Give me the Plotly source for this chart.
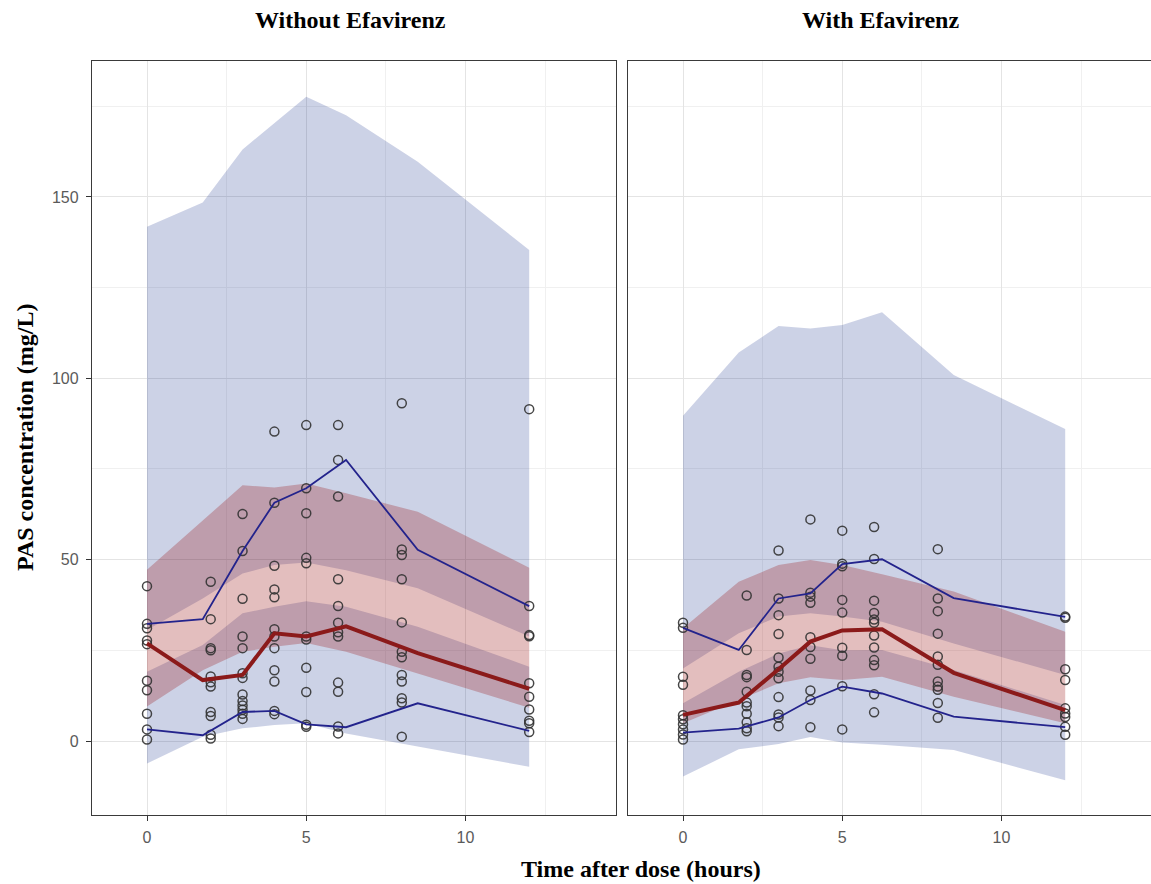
import plotly.graph_objects as go

# ---------------- data ----------------
bin_time = [0, 1.75, 3, 4, 5, 6.25, 8.5, 12]

# Without Efavirenz: simulated confidence bands
no_ci95_hi = [141.8, 148.5, 163.1, 170.3, 177.6, 172.5, 159.7, 135.4]
no_ci95_lo = [30.6, 39.3, 46.2, 48.5, 49.2, 47.1, 42.1, 28.8]
no_ci50_hi = [47.2, 60.9, 70.5, 69.9, 71.0, 68.3, 63.2, 47.8]
no_ci50_lo = [9.5, 19.5, 24.6, 26.0, 27.0, 24.6, 18.6, 9.2]
no_ci05_hi = [19.1, 26.5, 35.2, 37.0, 38.5, 37.0, 31.5, 20.5]
no_ci05_lo = [-6.2, 1.2, 3.5, 4.4, 4.9, 2.1, -1.5, -7.1]
# Without Efavirenz: observed percentiles
no_obs95 = [32.3, 33.6, 52.4, 65.7, 69.7, 77.5, 52.7, 37.2]
no_obs50 = [26.9, 16.8, 18.2, 29.7, 28.8, 31.6, 24.2, 14.4]
no_obs05 = [3.2, 1.6, 8.0, 8.3, 4.6, 3.8, 10.4, 2.8]

# With Efavirenz: simulated confidence bands
ef_ci95_hi = [89.7, 107.1, 114.4, 113.7, 114.7, 118.2, 100.9, 86.0]
ef_ci95_lo = [20.0, 29.7, 34.3, 35.2, 34.3, 32.9, 26.9, 18.2]
ef_ci50_hi = [31.1, 43.9, 48.5, 49.9, 48.5, 46.0, 41.2, 30.1]
ef_ci50_lo = [4.9, 11.3, 15.9, 17.6, 16.8, 17.7, 12.2, 4.9]
ef_ci05_hi = [10.4, 19.1, 24.1, 26.4, 25.0, 25.1, 19.6, 9.9]
ef_ci05_lo = [-9.8, -2.3, -0.8, 1.1, -0.4, -1.0, -2.5, -10.8]
# With Efavirenz: observed percentiles
ef_obs95 = [31.2, 25.1, 39.3, 40.7, 48.8, 50.1, 39.4, 34.2]
ef_obs50 = [7.2, 10.6, 19.8, 27.4, 30.5, 30.8, 18.8, 8.5]
ef_obs05 = [2.3, 3.4, 6.5, 11.3, 15.0, 13.1, 6.7, 3.8]

# observed concentrations (mg/L) at nominal sampling times
obs_times = [0, 2, 3, 4, 5, 6, 8, 12]
no_conc_t0 = [42.7, 32.3, 31.1, 27.7, 26.7, 16.6, 14.0, 7.5, 3.2, 0.4]
no_conc_t2 = [43.9, 33.6, 25.6, 25.0, 17.8, 16.2, 15.0, 8.0, 6.9, 1.7, 0.7]
no_conc_t3 = [62.6, 52.4, 39.2, 28.8, 25.6, 18.7, 17.4, 12.8, 11.0, 9.8, 8.6, 7.5, 6.1]
no_conc_t4 = [85.3, 65.7, 48.3, 41.8, 39.6, 30.8, 28.8, 25.6, 19.5, 16.4, 8.3, 7.4]
no_conc_t5 = [87.1, 69.7, 62.8, 50.5, 49.0, 28.8, 28.0, 20.2, 13.5, 4.5, 3.9]
no_conc_t6 = [87.1, 77.5, 67.4, 44.6, 37.2, 32.6, 30.0, 28.8, 16.1, 13.6, 4.0, 2.1]
no_conc_t8 = [93.1, 52.8, 51.3, 44.6, 32.7, 24.6, 23.1, 18.2, 16.4, 11.8, 10.6, 1.2]
no_conc_t12 = [91.5, 37.2, 29.2, 28.9, 15.9, 12.2, 8.7, 5.6, 4.9, 2.5]

ef_conc_t0 = [32.6, 31.2, 17.7, 15.5, 7.1, 6.0, 4.6, 3.2, 1.8, 0.4]
ef_conc_t2 = [40.1, 25.1, 18.2, 17.6, 13.6, 10.6, 9.6, 7.5, 5.2, 3.5, 2.7]
ef_conc_t3 = [52.5, 39.3, 34.7, 29.5, 23.0, 20.5, 19.1, 17.3, 12.1, 7.3, 6.5, 4.1]
ef_conc_t4 = [61.1, 40.9, 39.8, 38.1, 28.6, 25.9, 22.7, 13.9, 11.3, 3.8]
ef_conc_t5 = [58.0, 48.9, 48.2, 38.9, 35.4, 25.7, 23.5, 15.1, 3.2]
ef_conc_t6 = [59.0, 50.2, 38.7, 35.3, 33.5, 32.6, 29.1, 25.8, 22.3, 20.9, 12.9, 7.9]
ef_conc_t8 = [52.9, 39.3, 35.8, 29.6, 23.3, 21.0, 16.4, 15.0, 14.1, 10.5, 6.4]
ef_conc_t12 = [34.3, 34.0, 19.8, 16.8, 9.0, 7.6, 6.6, 3.9, 1.7]

x_ticks = [0, 5, 10]
y_ticks = [0, 50, 100, 150]
panel_titles = ["Without Efavirenz", "With Efavirenz"]
x_title = "Time after dose (hours)"
y_title = "PAS concentration (mg/L)"

# ---------------- styling ----------------
W, H = 1151, 884
BLUE_FILL = "rgba(0,30,130,0.20)"
RED_FILL = "rgba(150,15,15,0.27)"
BLUE_LINE = "rgb(35,35,140)"
RED_LINE = "rgb(139,26,26)"
PT_COLOR = "rgba(50,50,50,0.9)"
SERIF = "Liberation Serif, Times New Roman, serif"
SANS = "Liberation Sans, Arial, sans-serif"

fig = go.Figure()


def band(lo, hi, color, xa, ya):
    xs = list(bin_time) + list(bin_time)[::-1]
    ys = list(hi) + list(lo)[::-1]
    fig.add_trace(go.Scatter(x=xs, y=ys, fill="toself", fillcolor=color,
                             mode="lines", line=dict(width=0, color=color),
                             hoverinfo="skip", showlegend=False,
                             xaxis=xa, yaxis=ya))


def points(times, groups, xa, ya):
    xs, ys = [], []
    for t, g in zip(times, groups):
        xs += [t] * len(g)
        ys += g
    fig.add_trace(go.Scatter(x=xs, y=ys, mode="markers",
                             marker=dict(symbol="circle-open", size=9,
                                         color=PT_COLOR, line=dict(width=1.5, color=PT_COLOR)),
                             showlegend=False, xaxis=xa, yaxis=ya))


def line(vals, color, width, xa, ya):
    fig.add_trace(go.Scatter(x=bin_time, y=vals, mode="lines",
                             line=dict(color=color, width=width),
                             showlegend=False, xaxis=xa, yaxis=ya))


panels = [
    ("x", "y", no_ci95_lo, no_ci95_hi, no_ci50_lo, no_ci50_hi, no_ci05_lo, no_ci05_hi,
     [no_conc_t0, no_conc_t2, no_conc_t3, no_conc_t4, no_conc_t5, no_conc_t6, no_conc_t8, no_conc_t12],
     no_obs95, no_obs50, no_obs05),
    ("x2", "y2", ef_ci95_lo, ef_ci95_hi, ef_ci50_lo, ef_ci50_hi, ef_ci05_lo, ef_ci05_hi,
     [ef_conc_t0, ef_conc_t2, ef_conc_t3, ef_conc_t4, ef_conc_t5, ef_conc_t6, ef_conc_t8, ef_conc_t12],
     ef_obs95, ef_obs50, ef_obs05),
]

for xa, ya, c95l, c95h, c50l, c50h, c05l, c05h, groups, o95, o50, o05 in panels:
    band(c95l, c95h, BLUE_FILL, xa, ya)
    band(c05l, c05h, BLUE_FILL, xa, ya)
    band(c50l, c50h, RED_FILL, xa, ya)
    points(obs_times, groups, xa, ya)
    line(o95, BLUE_LINE, 1.8, xa, ya)
    line(o05, BLUE_LINE, 1.8, xa, ya)
    line(o50, RED_LINE, 4, xa, ya)

# panel geometry (pixels)
L1, R1 = 92, 616
L2 = 628
TOP, BOT = 61, 815
px_per_x = 31.85
px_per_y = 3.627
x0_left = -(147 - L1) / px_per_x
x1_left = x0_left + (R1 - L1) / px_per_x
x1_right = x0_left + (W - L2) / px_per_x
y_hi = (741 - TOP) / px_per_y
y_lo = (741 - BOT) / px_per_y

ydom = [1 - BOT / H, 1 - TOP / H]

common_x = dict(tickmode="array", tickvals=x_ticks, ticktext=[str(v) for v in x_ticks],
                showgrid=True, gridcolor="#E4E4E4", gridwidth=1, zeroline=False,
                ticks="outside", ticklen=5, tickwidth=1, tickcolor="#333333",
                tickfont=dict(family=SANS, size=16, color="#5a5a5a"),
                showline=True, linecolor="#3a3a3a", linewidth=1.3, mirror=True,
                minor=dict(dtick=2.5, tick0=0, showgrid=True, gridcolor="#F0F0F0", gridwidth=0.7),
                ticklabelstandoff=3)
common_y = dict(range=[y_lo, y_hi], tickmode="array", tickvals=y_ticks,
                showgrid=True, gridcolor="#E4E4E4", gridwidth=1, zeroline=False,
                minor=dict(dtick=25, tick0=0, showgrid=True, gridcolor="#F0F0F0", gridwidth=0.7),
                showline=True, linecolor="#3a3a3a", linewidth=1.3)

fig.update_layout(
    width=W, height=H,
    margin=dict(l=0, r=0, t=0, b=0),
    paper_bgcolor="white", plot_bgcolor="white",
    showlegend=False,
    xaxis=dict(domain=[L1 / W, R1 / W], range=[x0_left, x1_left], anchor="y", **common_x),
    xaxis2=dict(domain=[L2 / W, 1.0], range=[x0_left, x1_right], anchor="y2", **common_x),
    yaxis=dict(domain=ydom, anchor="x", mirror=True, ticks="outside", ticklen=5, tickwidth=1,
               tickcolor="#333333", ticktext=[str(v) for v in y_ticks],
               tickfont=dict(family=SANS, size=16, color="#5a5a5a"), ticklabelstandoff=4,
               **common_y),
    yaxis2=dict(domain=ydom, anchor="x2", mirror=False, showticklabels=False, ticks="",
                **common_y),
    annotations=[
        dict(text="<b>%s</b>" % panel_titles[0], x=350 / W, y=1 - 20 / H, xref="paper", yref="paper",
             xanchor="center", yanchor="middle", showarrow=False,
             font=dict(family=SERIF, size=24, color="black")),
        dict(text="<b>%s</b>" % panel_titles[1], x=880 / W, y=1 - 20 / H, xref="paper", yref="paper",
             xanchor="center", yanchor="middle", showarrow=False,
             font=dict(family=SERIF, size=24, color="black")),
        dict(text="<b>%s</b>" % x_title, x=641 / W, y=1 - 869 / H, xref="paper", yref="paper",
             xanchor="center", yanchor="middle", showarrow=False,
             font=dict(family=SERIF, size=24, color="black")),
        dict(text="<b>%s</b>" % y_title, x=25 / W, y=1 - 437 / H, xref="paper", yref="paper",
             xanchor="center", yanchor="middle", showarrow=False, textangle=-90,
             font=dict(family=SERIF, size=24, color="black")),
    ],
)

fig.write_html("out.html")
